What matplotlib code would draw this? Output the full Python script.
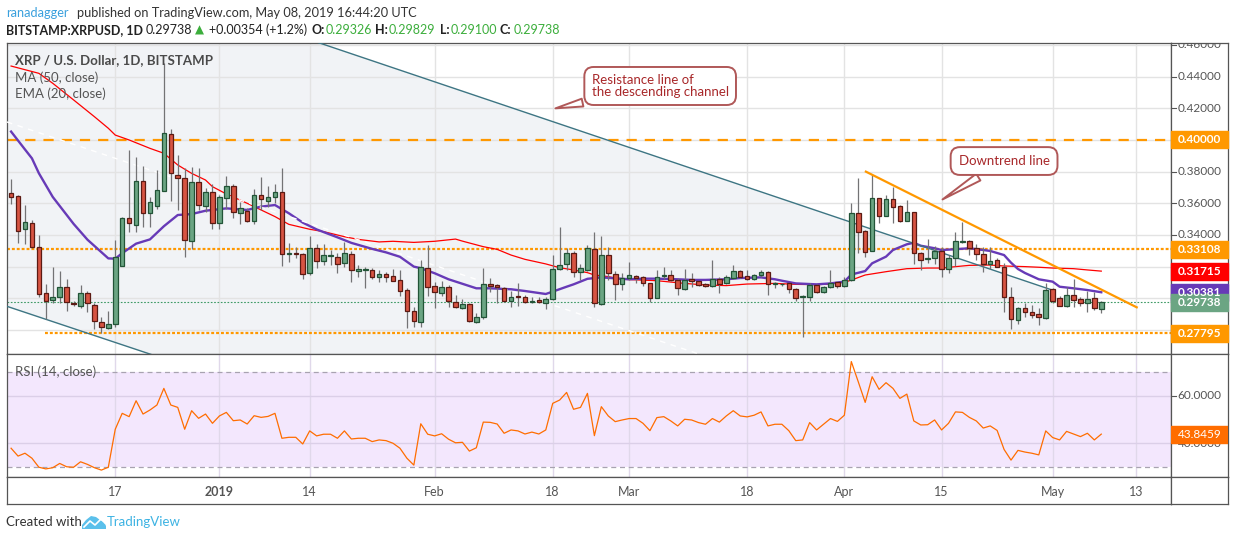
import numpy as np
import pandas as pd
import matplotlib
matplotlib.use("Agg")
import matplotlib.pyplot as plt
import matplotlib.dates as mdates
from matplotlib.patches import Rectangle, Polygon

plt.rcParams['font.family'] = ['Lato', 'DejaVu Sans']

# ---------------- data ----------------
start = pd.Timestamp("2018-12-02")

opens = [.3663, .3646, .3436, .3474, .3326, .3031, .2987, .3010, .3073, .2972,
         .2953, .3031, .2958, .2848, .2810, .2835, .3206, .3505, .3461, .3741,
         .3537, .3585, .3680, .4036, .3779, .3758, .3360, .3737, .3585, .3669,
         .3478, .3631, .3709, .3537, .3551, .3490, .3652, .3617, .3638, .3673,
         .3278, .3288, .3278, .3158, .3316, .3238, .3269, .3263, .3221, .3278,
         .3170, .3176, .3179, .3137, .3151, .3141, .3116, .3052, .2920, .2852,
         .3189, .3078, .3031, .3069, .2979, .2941, .2962, .2852, .2880, .3088,
         .3084, .3063, .2985, .3014, .3006, .2975, .2989, .2972, .2993, .3187,
         .3214, .3284, .3168, .3179, .3309, .2962, .3273, .3151, .3088, .3126,
         .3139, .3132, .3094, .3004, .3139, .3145, .3116, .3057, .3120, .3109,
         .3088, .3080, .3120, .3094, .3126, .3170, .3139, .3124, .3145, .3164,
         .3088, .3088, .3094, .3057, .3008, .3010, .3084, .3042, .3069, .3101,
         .3080, .3116, .3537, .3425, .3301, .3631, .3522, .3625, .3583, .3490,
         .3543, .3284, .3246, .3252, .3299, .3183, .3252, .3353, .3360, .3316,
         .3278, .3214, .3242, .3200, .3006, .2863, .2937, .2915, .2901, .2873,
         .3057, .3000, .2953, .3019, .2993, .2972, .3000, .29326]
highs = [.3751, .3652, .3589, .3495, .3400, .3090, .3200, .3174, .3120, .2980,
         .3084, .3048, .2968, .2880, .2922, .3368, .3516, .3937, .3895, .3836,
         .3642, .3810, .4486, .4067, .3905, .3821, .3827, .3821, .3695, .3722,
         .3652, .3772, .3722, .3606, .3568, .3690, .3768, .3709, .3722, .3825,
         .3347, .3322, .3284, .3393, .3343, .3343, .3305, .3284, .3353, .3298,
         .3210, .3200, .3193, .3179, .3168, .3183, .3179, .3063, .2947, .3242,
         .3337, .3105, .3111, .3084, .3021, .2993, .2968, .2905, .3189, .3126,
         .3088, .3073, .3048, .3094, .3021, .3006, .3006, .3010, .3273, .3448,
         .3316, .3298, .3217, .3337, .3421, .3393, .3326, .3172, .3158, .3231,
         .3147, .3141, .3099, .3179, .3196, .3179, .3126, .3183, .3158, .3111,
         .3099, .3242, .3132, .3147, .3208, .3179, .3179, .3153, .3179, .3172,
         .3105, .3099, .3099, .3063, .3019, .3099, .3090, .3078, .3179, .3105,
         .3132, .3600, .3758, .3431, .3779, .3636, .3652, .3705, .3589, .3621,
         .3543, .3295, .3372, .3330, .3326, .3273, .3421, .3484, .3368, .3343,
         .3322, .3322, .3252, .3221, .3069, .2947, .2968, .2958, .2937, .3099,
         .3063, .3014, .3073, .3120, .3006, .3048, .3037, .29829]
lows = [.3596, .3347, .3343, .3320, .3006, .2867, .2968, .2968, .2922, .2950,
        .2937, .2915, .2804, .2779, .2804, .2817, .3206, .3421, .3421, .3452,
        .3448, .3564, .3680, .3617, .3558, .3263, .3309, .3558, .3547, .3436,
        .3440, .3562, .3505, .3467, .3484, .3469, .3558, .3579, .3600, .3204,
        .3231, .3252, .3120, .3147, .3193, .3210, .3210, .3158, .3200, .3105,
        .3137, .3063, .3120, .3105, .3105, .3111, .3014, .2810, .2817, .2821,
        .3014, .2937, .3014, .2947, .2937, .2930, .2852, .2846, .2867, .3042,
        .2968, .2979, .2947, .2953, .2968, .2968, .2968, .2934, .2989, .3179,
        .3179, .3137, .3116, .3174, .2947, .2958, .3116, .2989, .3052, .3116,
        .3099, .3078, .2979, .3000, .3120, .3111, .3021, .3052, .3073, .3078,
        .3073, .3073, .3035, .3090, .3120, .3126, .3116, .3116, .3132, .3021,
        .3063, .3078, .3031, .2985, .2753, .2985, .3035, .3035, .3063, .3067,
        .3069, .3111, .3284, .3259, .3301, .3474, .3520, .3478, .3484, .3490,
        .3217, .3179, .3221, .3217, .3137, .3162, .3204, .3347, .3273, .3242,
        .3168, .3187, .3196, .2915, .2804, .2837, .2880, .2873, .2831, .2869,
        .2968, .2951, .2947, .2947, .2953, .2915, .2926, .29100]
closes = [.3642, .3427, .3480, .3322, .3025, .2985, .3006, .3069, .2976, .2966,
          .3031, .2968, .2857, .2817, .2835, .3259, .3505, .3474, .3741, .3541,
          .3606, .3684, .4042, .3789, .3758, .3368, .3737, .3589, .3669, .3478,
          .3638, .3709, .3543, .3568, .3490, .3652, .3625, .3638, .3669, .3278,
          .3286, .3280, .3151, .3316, .3238, .3273, .3273, .3214, .3284, .3179,
          .3183, .3183, .3137, .3151, .3137, .3111, .3048, .2922, .2858, .3196,
          .3073, .3042, .3069, .2985, .2947, .2962, .2858, .2880, .3088, .3080,
          .3073, .2985, .3006, .3006, .2979, .2985, .2979, .2993, .3183, .3208,
          .3284, .3168, .3189, .3316, .2968, .3273, .3158, .3088, .3126, .3145,
          .3128, .3094, .3004, .3132, .3145, .3116, .3063, .3116, .3107, .3084,
          .3080, .3120, .3088, .3132, .3170, .3132, .3124, .3145, .3164, .3088,
          .3094, .3092, .3057, .3004, .3014, .3084, .3042, .3069, .3094, .3080,
          .3116, .3537, .3421, .3295, .3631, .3522, .3625, .3575, .3488, .3543,
          .3284, .3242, .3252, .3299, .3183, .3252, .3360, .3360, .3316, .3278,
          .3214, .3233, .3200, .3010, .2867, .2937, .2915, .2894, .2884, .3052,
          .2985, .2953, .3019, .2989, .2968, .2993, .2938, .29738]

# MA(50) and EMA(20) (day offset from start, price)
ma50_days = [0, 4, 6, 9, 12, 14, 15, 17, 20, 22, 24, 26, 28, 29, 31, 34, 36, 38, 40,
             43, 45, 48, 50, 53, 55, 58, 61, 64, 65, 68, 70, 72, 74, 77, 79, 81, 83,
             84, 86, 88, 93, 97, 100, 103, 106, 110, 113, 116, 118, 120, 121, 123,
             126, 129, 132, 134, 137, 138, 141, 143, 146, 148, 150, 153, 155, 157]
ma50_vals = [.4467, .4421, .4358, .4253, .4147, .4074, .4031, .4000, .3947, .3916,
             .3842, .3789, .3747, .3705, .3659, .3600, .3558, .3516, .3467, .3436,
             .3421, .3389, .3372, .3356, .3360, .3353, .3360, .3374, .3361, .3326,
             .3309, .3273, .3246, .3217, .3193, .3179, .3162, .3147, .3137, .3120,
             .3111, .3094, .3084, .3080, .3090, .3094, .3088, .3086, .3090, .3101,
             .3115, .3147, .3168, .3187, .3191, .3191, .3204, .3208, .3210, .3204,
             .3200, .3196, .3191, .3187, .3179, .31715]
ema20_days = [0, 2, 3, 4, 6, 9, 11, 14, 15, 16, 18, 20, 22, 24, 26, 28, 31, 34, 36,
              38, 40, 42, 44, 47, 49, 52, 54, 56, 58, 59, 61, 63, 67, 69, 72, 74, 77,
              78, 80, 81, 83, 85, 87, 89, 91, 93, 96, 98, 100, 103, 105, 108, 110,
              111, 113, 116, 118, 120, 121, 123, 124, 126, 127, 129, 130, 131, 133,
              134, 136, 138, 140, 141, 143, 144, 145, 146, 148, 150, 151, 153, 155, 157]
ema20_vals = [.4053, .3940, .3884, .3790, .3640, .3470, .3370, .3252, .3250, .3285,
              .3345, .3372, .3455, .3526, .3532, .3553, .3568, .3558, .3579, .3589,
              .3537, .3478, .3435, .3385, .3350, .3312, .3290, .3262, .3200, .3190,
              .3158, .3120, .3063, .3063, .3057, .3046, .3027, .3042, .3073, .3088,
              .3123, .3132, .3126, .3120, .3124, .3124, .3120, .3116, .3116, .3120,
              .3128, .3132, .3120, .3111, .3094, .3088, .3094, .3105, .3150, .3172,
              .3221, .3263, .3305, .3341, .3351, .3332, .3316, .3305, .3310, .3316,
              .3305, .3299, .3273, .3225, .3185, .3160, .3120, .3105, .3073, .3063,
              .3052, .30381]

rsi_vals = [37.9, 34.6, 35.8, 33.7, 29.9, 29.2, 29.7, 31.5, 30.1, 29.9,
            32.2, 31.1, 29.7, 28.7, 29.9, 45.9, 52.6, 51.2, 57.9, 52.3,
            54.0, 56.1, 63.1, 56.1, 55.1, 45.9, 53.7, 50.5, 52.3, 48.4,
            51.5, 53.0, 49.5, 49.8, 48.1, 51.6, 50.9, 51.3, 52.6, 42.1,
            42.5, 42.5, 39.7, 45.2, 43.1, 43.8, 43.8, 42.1, 45.2, 41.8,
            42.1, 42.1, 40.7, 41.4, 41.1, 40.0, 37.9, 33.7, 30.8, 48.2,
            43.8, 43.1, 44.0, 41.7, 40.2, 40.4, 36.7, 38.1, 48.9, 48.8,
            48.1, 44.2, 45.6, 45.2, 43.9, 44.7, 43.9, 45.6, 56.8, 58.2,
            61.4, 54.3, 55.1, 61.0, 43.2, 55.4, 51.5, 49.1, 49.8, 50.4,
            50.4, 48.4, 45.3, 50.8, 51.2, 49.4, 47.3, 50.1, 49.8, 48.7,
            48.0, 50.4, 48.9, 51.5, 53.7, 51.5, 51.1, 51.8, 53.2, 47.3,
            48.0, 48.0, 45.3, 41.1, 41.4, 48.7, 45.6, 48.0, 50.4, 49.2,
            51.8, 74.4, 65.9, 57.2, 68.0, 62.7, 65.5, 63.1, 58.9, 60.7,
            49.4, 47.7, 47.8, 49.8, 45.6, 48.4, 53.2, 53.0, 50.9, 49.4,
            46.4, 47.3, 45.4, 37.4, 32.9, 37.0, 36.3, 35.8, 35.1, 45.2,
            42.4, 41.4, 45.0, 43.9, 42.8, 44.2, 41.4, 43.8459]

# drawn objects (day offset, price)
channel_upper = [(40, 0.4678), (150, 0.3051)]
channel_lower = [(-1, 0.2955), (29, 0.2516)]
downtrend = [(123.1, 0.3800), (162.1, 0.2943)]
resistance_levels = [0.40000, 0.33108]
support_level = 0.27795
support_from = 4.9
last_price = 0.29738

tick_dates = ["2018-12-17", "2019-01-01", "2019-01-14", "2019-02-01", "2019-02-18",
              "2019-03-01", "2019-03-18", "2019-04-01", "2019-04-15", "2019-05-01",
              "2019-05-13"]
tick_labels = ["17", "2019", "14", "Feb", "18", "Mar", "18", "Apr", "15", "May", "13"]
price_ticks = [0.46, 0.44, 0.42, 0.38, 0.36, 0.34]
price_boxes = [(0.40000, "#ff9800"), (0.33108, "#ff9800"), (0.31715, "#ff0000"),
               (0.30381, "#673ab7"), (0.29738, "#6ba583"), (0.27795, "#ff9800")]

# ---------------- figure layout (pixels) ----------------
W, H = 1234, 541
fig = plt.figure(figsize=(W / 100, H / 100), dpi=100)
fig.patch.set_facecolor("white")


def box(x0, y0, x1, y1):
    return [x0 / W, 1 - y1 / H, (x1 - x0) / W, (y1 - y0) / H]


ax = fig.add_axes(box(7, 43, 1171, 354))
axr = fig.add_axes(box(7, 354, 1171, 477), sharex=ax)
axt = fig.add_axes(box(7, 477, 1171, 504), sharex=ax)
axp = fig.add_axes(box(1171, 43, 1228, 354), sharey=ax)
axrp = fig.add_axes(box(1171, 354, 1228, 477), sharey=axr)
axc = fig.add_axes(box(1171, 477, 1228, 504))

frame_col = "#555555"
for a in (ax, axr, axt, axp, axrp, axc):
    for s in a.spines.values():
        s.set_color(frame_col)
        s.set_linewidth(0.9)
    a.tick_params(left=False, right=False, top=False, bottom=False,
                  labelleft=False, labelbottom=False)
axc.set_xticks([])
axc.set_yticks([])

base = mdates.date2num(start)
days = np.arange(len(closes))
x = base + days
o, h, l, c = map(np.array, (opens, highs, lows, closes))

ax.set_xlim(base - 0.59, base + 167.04)
ax.set_ylim(0.2648, 0.46126)
axr.set_ylim(25.79, 77.58)

grid_col = "#e3e3e3"
tick_x = mdates.date2num(pd.to_datetime(tick_dates))
for tx in tick_x:
    ax.axvline(tx, color=grid_col, lw=1, zorder=0.8)
    axr.axvline(tx, color="#e0d8ea", lw=1, zorder=0.8)
for p in np.arange(0.28, 0.461, 0.02):
    ax.axhline(p, color=grid_col, lw=1, zorder=0.8)

# ---- descending channel ----
def line_at(pts, d):
    (d0, p0), (d1, p1) = pts
    return p0 + (p1 - p0) * (d - d0) / (d1 - d0)


fill_d = np.array([-0.6, channel_upper[1][0]])
up_y = line_at(channel_upper, fill_d)
lo_y = line_at(channel_lower, fill_d)
ax.fill_between(base + fill_d, lo_y, up_y, color="#f1f3f6", zorder=0.5, lw=0)
ax.plot(base + fill_d, up_y, color="#3d7583", lw=1.0, zorder=4)
ax.plot(base + fill_d, lo_y, color="#3d7583", lw=1.0, zorder=4)
ax.plot(base + fill_d, (up_y + lo_y) / 2, color="white", lw=1.0,
        dashes=(4, 4), zorder=3.5)

# ---- horizontal levels ----
ax.axhline(resistance_levels[0], color="#ff9800", lw=1.6, dashes=(4.6, 3.6), zorder=2)
ax.axhline(resistance_levels[1], color="#ff9800", lw=1.6, dashes=(1.3, 0.9), zorder=2)
ax.plot([base + support_from, base + 170], [support_level] * 2, color="#ff9800",
        lw=1.6, dashes=(1.3, 0.9), zorder=2)
ax.axhline(last_price, color="#3d9a65", lw=0.8, dashes=(1.5, 1.5), zorder=2)

# ---- moving averages ----
ax.plot(base + np.array(ma50_days), ma50_vals, color="#ff0000", lw=0.9, zorder=3)
ax.plot(base + np.array(ema20_days), ema20_vals, color="#673ab7", lw=1.7, zorder=3)

# ---- candles ----
rising = c >= o
body_lo = np.minimum(o, c)
body_h = np.maximum(np.abs(c - o), 0.0003)
ax.vlines(x, l, h, color="#737375", lw=0.9, zorder=5)
ax.bar(x[rising], body_h[rising], bottom=body_lo[rising], width=0.66,
       color="#6ba583", edgecolor="#225437", linewidth=0.9, zorder=6)
ax.bar(x[~rising], body_h[~rising], bottom=body_lo[~rising], width=0.66,
       color="#d75442", edgecolor="#5b1a13", linewidth=0.9, zorder=6)

# ---- downtrend line ----
ax.plot([base + downtrend[0][0], base + downtrend[1][0]],
        [downtrend[0][1], downtrend[1][1]], color="#ff9800", lw=1.6, zorder=7)

# ---- callouts ----
note_ec = "#b05858"
note_tc = "#a8282a"
ax.annotate("Resistance line of\nthe descending channel",
            xy=(base + 78.0, 0.4196), xytext=(base + 83.6, 0.4341),
            ha="left", va="center", fontsize=9.5, color=note_tc, linespacing=0.95,
            bbox=dict(boxstyle="round,pad=0.55,rounding_size=0.7", fc="white",
                      ec=note_ec, lw=1.4),
            arrowprops=dict(arrowstyle="wedge,tail_width=0.6,shrink_factor=0.5",
                            fc="white", ec=note_ec, lw=1.4), zorder=9)
ax.annotate("Downtrend line",
            xy=(base + 133.8, 0.3615), xytext=(base + 143.0, 0.3867),
            ha="center", va="center", fontsize=9.5, color=note_tc,
            bbox=dict(boxstyle="round,pad=0.6,rounding_size=0.7", fc="white",
                      ec=note_ec, lw=1.4),
            arrowprops=dict(arrowstyle="wedge,tail_width=0.6,shrink_factor=0.5",
                            fc="white", ec=note_ec, lw=1.4), zorder=9)

# ---- panel legends ----
ax.text(8 / 1164, 1 - 17 / 311, "XRP / U.S. Dollar, 1D, BITSTAMP", transform=ax.transAxes,
        fontsize=9.5, fontweight="bold", color="#4a4a4a", va="center", zorder=10)
ax.text(8 / 1164, 1 - 34.5 / 311, "MA (50, close)", transform=ax.transAxes,
        fontsize=9.5, color="#555555", va="center", zorder=10)
ax.text(8 / 1164, 1 - 51 / 311, "EMA (20, close)", transform=ax.transAxes,
        fontsize=9.5, color="#555555", va="center", zorder=10)

# ---- price axis ----
ytr = axp.get_yaxis_transform()
for p in price_ticks:
    axp.plot([0, 0.08], [p, p], color=frame_col, lw=0.8, transform=ytr)
    axp.text(0.5, p, f"{p:.5f}", transform=ytr, ha="center", va="center",
             fontsize=8.5, color="#555555", clip_on=True)
half = 8.5 / 1583
for p, col in price_boxes:
    axp.add_patch(Rectangle((0, p - half), 1, 2 * half, transform=ytr,
                            color=col, zorder=5, clip_on=False))
    axp.text(0.5, p, f"{p:.5f}", transform=ytr, ha="center", va="center",
             fontsize=8.5, fontweight="bold", color="white", zorder=6)

# ---- RSI panel ----
axr.axhspan(30, 70, color="#f3e7fd", zorder=0.3, lw=0)
axr.axhline(70, color="#a8a3b0", lw=0.9, dashes=(4, 3), zorder=1)
axr.axhline(30, color="#a8a3b0", lw=0.9, dashes=(4, 3), zorder=1)
axr.axhline(60, color="#dbcfe8", lw=1, zorder=0.9)
axr.axhline(40, color="#dbcfe8", lw=1, zorder=0.9)
axr.plot(x, rsi_vals, color="#ff6d00", lw=0.9, zorder=3)
axr.text(8 / 1164, 70, "RSI (14, close)", transform=axr.get_yaxis_transform(),
         fontsize=9.5, color="#555555", va="center", zorder=5)

rtr = axrp.get_yaxis_transform()
for v in (60, 40):
    axrp.plot([0, 0.08], [v, v], color=frame_col, lw=0.8, transform=rtr)
    axrp.text(0.5, v, f"{v:.4f}", transform=rtr, ha="center", va="center",
              fontsize=8.5, color="#555555")
rhalf = 8.5 / 2.375
axrp.add_patch(Rectangle((0, rsi_vals[-1] - rhalf), 1, 2 * rhalf, transform=rtr,
                         color="#ff6d00", zorder=5))
axrp.text(0.5, rsi_vals[-1], f"{rsi_vals[-1]:.4f}", transform=rtr, ha="center",
          va="center", fontsize=8.5, color="white", zorder=6)

# ---- time axis ----
axr.set_xticks(tick_x)
axr.tick_params(axis="x", bottom=True, direction="out", length=3, color=frame_col,
                labelbottom=False)
axt.set_ylim(0, 1)
for tx, lab in zip(tick_x, tick_labels):
    axt.text(tx, 0.45, lab, ha="center", va="center", fontsize=9,
             color="#555555", fontweight="bold" if lab == "2019" else "normal")

# ---- header & footer (segments placed at their x positions) ----
def seg(xp, yp, s, col="#222222", wt="normal", size=9.2):
    fig.text(xp / W, 1 - yp / H, s, color=col, fontsize=size, fontweight=wt,
             ha="left", va="center")


seg(6, 13, "ranadagger", "#3aa0dd")
seg(77, 13, "published on TradingView.com, May 08, 2019 16:44:20 UTC", "#333333")

green = "#3cae3c"
seg(6, 30, "BITSTAMP:XRPUSD, 1D", wt="bold", size=9)
seg(146, 30, "0.29738", size=9)
seg(195, 30, "\u25b2", green, size=8.5)
seg(209, 30, "+0.00354 (+1.2%)", size=9)
seg(312, 30, "O:", wt="bold", size=9)
seg(326, 30, "0.29326", green, size=9)
seg(375, 30, "H:", wt="bold", size=9)
seg(389, 30, "0.29829", green, size=9)
seg(440, 30, "L:", wt="bold", size=9)
seg(451, 30, "0.29100", green, size=9)
seg(500, 30, "C:", wt="bold", size=9)
seg(514, 30, "0.29738", green, size=9)

seg(6, 522, "Created with", "#333333", size=9.5)
cloud = [(82, 529), (82, 525), (86, 520), (91, 516), (96, 517), (100, 520),
         (104, 522), (106, 526), (106, 529)]
fig.add_artist(Polygon([(px / W, 1 - py / H) for px, py in cloud], closed=True,
                       transform=fig.transFigure, fc="#5bc0eb", ec="none"))
zig = [(84, 527), (90, 521), (95, 525), (101, 519), (105, 523)]
fig.add_artist(plt.Line2D([px / W for px, _ in zig], [1 - py / H for _, py in zig],
                          transform=fig.transFigure, color="white", lw=1.2))
seg(107, 522, "TradingView", "#3db3e3", size=9.5)

fig.savefig("out.png", dpi=100, facecolor="white")
